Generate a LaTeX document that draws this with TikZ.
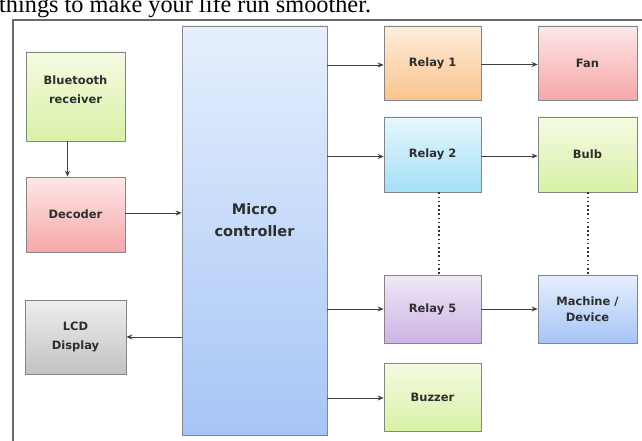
\documentclass[tikz,border=0pt]{standalone}
\usepackage{fontspec}
\setmainfont{DejaVu Sans}
\newfontfamily\serifx{Liberation Serif}
\usetikzlibrary{arrows.meta,shadows}
\definecolor{gtop}{HTML}{F4FBE2}
\definecolor{gbot}{HTML}{D8F1A6}
\definecolor{rtop}{HTML}{FDE7E7}
\definecolor{rbot}{HTML}{F6A7A8}
\definecolor{ktop}{HTML}{EEEEEE}
\definecolor{kbot}{HTML}{C2C2C2}
\definecolor{btop}{HTML}{E6EFFD}
\definecolor{bbot}{HTML}{A6C5F6}
\definecolor{otop}{HTML}{FDEDDA}
\definecolor{obot}{HTML}{FBC48E}
\definecolor{ctop}{HTML}{E6F7FD}
\definecolor{cbot}{HTML}{A5DFF7}
\definecolor{ptop}{HTML}{F0E8F7}
\definecolor{pbot}{HTML}{CCB4E5}
\definecolor{framec}{HTML}{6A6A6A}
\tikzset{
  blk/.style 2 args={rectangle, draw=black!48, line width=0.7pt,
    top color=#1, bottom color=#2,
    drop shadow={shadow xshift=1.3pt, shadow yshift=-1.3pt, opacity=0.22, fill=black},
    font=\fontsize{11.5}{19}\selectfont\bfseries, text=black!82,
    align=center, inner sep=0pt},
  conn/.style={draw=black!75, line width=0.8pt, -{Stealth[length=6pt,width=5pt]}},
  dotline/.style={draw=black!80, line width=2pt, dash pattern=on 1.6pt off 2.6pt},
}
\begin{document}
\begin{tikzpicture}[x=1pt,y=-1pt]
\useasboundingbox (0,0) rectangle (642,441);
\clip (0,0) rectangle (642,441);
% caption fragment
\node[anchor=base west, inner sep=0pt, font=\serifx\fontsize{24.3}{28}\selectfont] (cap) at (-1,13) {things to make your life run smoother.};
% frame
\draw[framec, line width=1.2pt] (13,445) -- (13,20) -- (646,20);
% left column
\node[blk={gtop}{gbot}, minimum width=99pt, minimum height=89pt] (bt) at (75.5,96.5)
  {\raisebox{3.6pt}[0pt][0pt]{\begin{tabular}{@{}c@{}}Bluetooth\\receiver\end{tabular}}};
\node[blk={rtop}{rbot}, minimum width=99pt, minimum height=75pt] (dec) at (75.5,214.5) {Decoder};
\node[blk={ktop}{kbot}, minimum width=101pt, minimum height=74pt] (lcd) at (75.5,337) {LCD\\Display};
% micro controller
\node[blk={btop}{bbot}, minimum width=145pt, minimum height=409pt,
      font=\fontsize{14.5}{21}\selectfont\bfseries] (mcu) at (254.5,230.5)
  {\raisebox{5.4pt}[0pt][0pt]{\begin{tabular}{@{}c@{}}Micro\\[1pt]controller\end{tabular}}};
% relays
\node[blk={otop}{obot}, minimum width=97pt, minimum height=74pt] (r1) at (432.5,63) {Relay 1};
\node[blk={ctop}{cbot}, minimum width=97pt, minimum height=75pt] (r2) at (432.5,154.5) {Relay 2};
\node[blk={ptop}{pbot}, minimum width=97pt, minimum height=68pt] (r5) at (432.5,309) {Relay 5};
\node[blk={gtop}{gbot}, minimum width=97pt, minimum height=68pt] (buz) at (432.5,397) {Buzzer};
% loads
\node[blk={rtop}{rbot}, minimum width=99pt, minimum height=74pt] (fan) at (587.5,63) {Fan};
\node[blk={gtop}{gbot}, minimum width=99pt, minimum height=75pt] (bulb) at (587.5,154.5) {Bulb};
\node[blk={btop}{bbot}, minimum width=99pt, minimum height=68pt,
      font=\fontsize{11.5}{16}\selectfont\bfseries] (mach) at (587.5,309) {Machine /\\Device};
% connectors
\draw[conn] ([xshift=-8pt]bt.south) -- ([xshift=-8pt]dec.north);
\draw[conn] ([yshift=1.5pt]dec.east) -- ([yshift=1.5pt]dec.east -| mcu.west);
\draw[conn] (mcu.west |- lcd.east) -- (lcd.east);
\draw[conn] ([yshift=-2pt]r1.west -| mcu.east) -- ([yshift=-2pt]r1.west);
\draw[conn] ([yshift=-1.5pt]r1.east) -- ([yshift=-1.5pt]fan.west);
\draw[conn] ([yshift=-2pt]r2.west -| mcu.east) -- ([yshift=-2pt]r2.west);
\draw[conn] ([yshift=-1.5pt]r2.east) -- ([yshift=-1.5pt]bulb.west);
\draw[conn] (r5.west -| mcu.east) -- (r5.west);
\draw[conn] (r5.east) -- (mach.west);
\draw[conn] ([yshift=-1pt]buz.west -| mcu.east) -- ([yshift=-1pt]buz.west);
\draw[dotline] ([xshift=6pt]r2.south) -- ([xshift=6pt]r5.north);
\draw[dotline] (bulb.south) -- (mach.north);
\end{tikzpicture}
\end{document}
